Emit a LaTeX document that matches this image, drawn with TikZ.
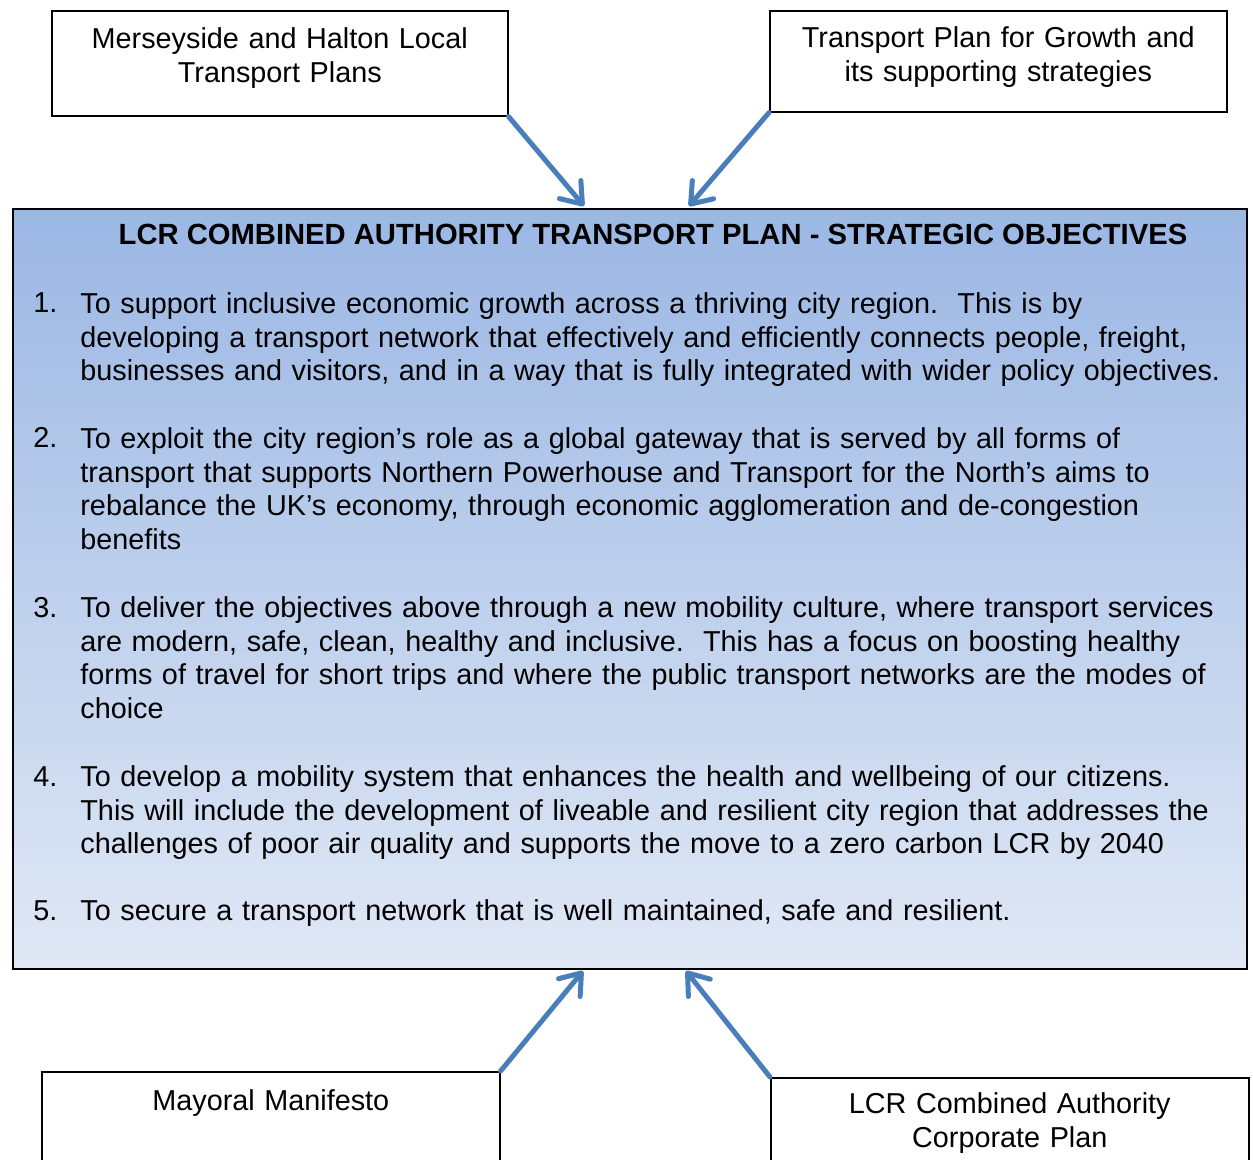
\documentclass[tikz,border=0pt]{standalone}
\usepackage{fontspec}
\setmainfont{Liberation Sans}
\usepackage{tikz}
\usepackage{xcolor}
\usetikzlibrary{
    arrows.meta,
    positioning
}
\definecolor{feedblue}{HTML}{4A7EBB}
\definecolor{planTop}{HTML}{9BB7E4}
\definecolor{planBottom}{HTML}{E0E8F5}

\begin{document}
\begin{tikzpicture}[x=0.5pt, y=-0.5pt,
    font=\fontsize{14.4}{16.85}\selectfont,
    plan/.style={draw, line width=0.8pt, anchor=north west, align=center,
        inner xsep=4pt, inner ysep=0pt},
    feed/.style={draw=feedblue, line width=2.5pt, line cap=round,
        -{Straight Barb[length=9.5pt, width=14pt, round]}},
    objnum/.style={anchor=base west, inner sep=0pt},
    objtext/.style={anchor=north west, inner sep=0pt, text width=600pt,
        align=left, text height=11.8pt}]
                        \useasboundingbox (0, 0) rectangle (1253, 1160);
                        % source plans
                        \node[plan, text width=220pt, text height=19pt, text depth=33.5pt]
                            (merseyside) at (51, 10) {Merseyside and Halton Local\\Transport Plans};
                        \node[plan, text width=220.5pt, text height=18.5pt, text depth=32pt]
                            (growth) at (769, 10) {Transport Plan for Growth and\\its supporting strategies};
                        \node[plan, text width=221pt, text height=19.5pt, text depth=50pt]
                            (manifesto) at (41, 1071) {Mayoral Manifesto};
                        \node[plan, text width=231pt, text height=18pt, text depth=50pt]
                            (corporate) at (770, 1077) {LCR Combined Authority\\Corporate Plan};
                        % strategic objectives
                        \node[draw, line width=0.8pt, anchor=north west, inner sep=0pt,
                            minimum width=617pt, minimum height=380pt,
                            top color=planTop, bottom color=planBottom]
                            (objectives) at (12, 208) {};
                        \node[anchor=base, inner sep=0pt, font=\fontsize{14.6}{17}\selectfont\bfseries]
                            (title) at (653, 245) {LCR COMBINED AUTHORITY TRANSPORT PLAN - STRATEGIC OBJECTIVES};
                        \node[objnum] (n1) at (33, 313) {1.};
                        \node[objtext] (obj1) at (80, 313 - 23.6) {To support inclusive economic growth across a thriving city region.\ \ This is by\\
                            developing a transport network that effectively and efficiently connects people, freight,\\
                            businesses and visitors, and in a way that is fully integrated with wider policy objectives.};
                        \node[objnum] (n2) at (33, 448) {2.};
                        \node[objtext] (obj2) at (80, 448 - 23.6) {To exploit the city region’s role as a global gateway that is served by all forms of\\
                            transport that supports Northern Powerhouse and Transport for the North’s aims to\\
                            rebalance the UK’s economy, through economic agglomeration and de-congestion\\
                            benefits};
                        \node[objnum] (n3) at (33, 617) {3.};
                        \node[objtext] (obj3) at (80, 617 - 23.6) {To deliver the objectives above through a new mobility culture, where transport services\\
                            are modern, safe, clean, healthy and inclusive.\ \ This has a focus on boosting healthy\\
                            forms of travel for short trips and where the public transport networks are the modes of\\
                            choice};
                        \node[objnum] (n4) at (33, 786) {4.};
                        \node[objtext] (obj4) at (80, 786 - 23.6) {To develop a mobility system that enhances the health and wellbeing of our citizens.\\
                            This will include the development of liveable and resilient city region that addresses the\\
                            challenges of poor air quality and supports the move to a zero carbon LCR by 2040};
                        \node[objnum] (n5) at (33, 920) {5.};
                        \node[objtext] (obj5) at (80, 920 - 23.6) {To secure a transport network that is well maintained, safe and resilient.};
                        % arrow ends on the objectives box
                        \coordinate (inTL) at (584, 206);
                        \coordinate (inTR) at (689, 206);
                        \coordinate (inBL) at (583, 971);
                        \coordinate (inBR) at (686, 971);
                        \draw[feed] (merseyside.south east) -- (inTL);
                        \draw[feed] (growth.south west) -- (inTR);
                        \draw[feed] (manifesto.north east) -- (inBL);
                        \draw[feed] (corporate.north west) -- (inBR);
                    \end{tikzpicture}
\end{document}
